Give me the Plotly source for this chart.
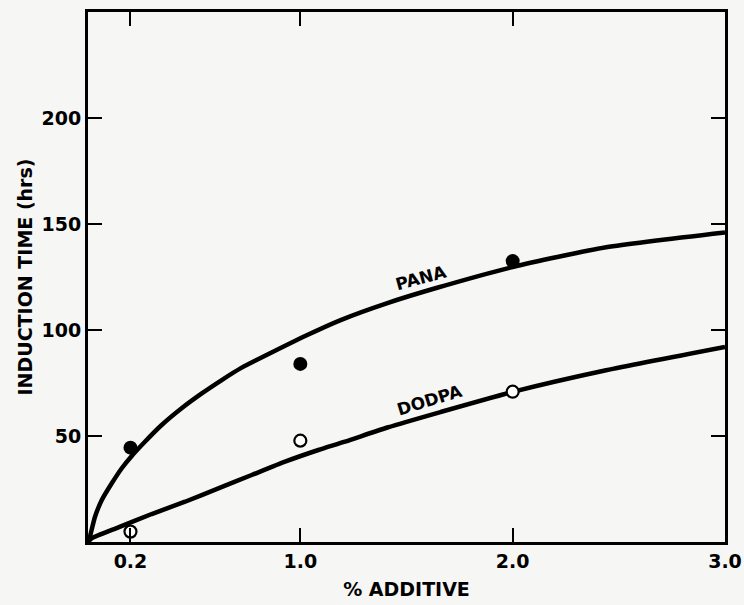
import plotly.graph_objects as go

# Measured points
additive_pct = [0.2, 1.0, 2.0]
pana_points = [44.5, 84.0, 132.5]
dodpa_points = [4.9, 47.8, 70.9]

# Fitted curves as drawn
pana_curve_x = [0.0, 0.009, 0.033, 0.065, 0.112, 0.159, 0.206, 0.268, 0.347, 0.441,
                0.536, 0.63, 0.72, 1.03, 1.19, 1.41, 1.64, 2.0, 2.44, 3.0]
pana_curve_y = [0.0, 2.5, 11.9, 19.8, 27.7, 34.8, 40.6, 47.3, 55.2, 63.1,
                70.1, 76.4, 82.0, 97.5, 104.7, 112.7, 119.8, 129.7, 139.0, 146.0]
dodpa_curve_x = [0.0, 0.017, 0.143, 0.3, 0.457, 0.614, 0.771, 0.928, 1.085, 1.21,
                 1.41, 1.66, 2.0, 2.44, 3.0]
dodpa_curve_y = [0.0, 1.7, 6.9, 13.2, 19.0, 25.3, 31.6, 37.9, 43.4, 47.3,
                 54.0, 61.3, 70.8, 81.0, 92.0]

x_tickvals = [0.2, 1.0, 2.0, 3.0]
x_ticktext = ["<b>0.2</b>", "<b>1.0</b>", "<b>2.0</b>", "<b>3.0</b>"]
y_tickvals = [50, 100, 150, 200]
y_ticktext = ["<b>50</b>", "<b>100</b>", "<b>150</b>", "<b>200</b>"]

FONT = "DejaVu Sans"
BG = "#f6f6f4"

fig = go.Figure()
fig.add_trace(go.Scatter(x=pana_curve_x, y=pana_curve_y, mode="lines",
                         line=dict(color="black", width=4.5, shape="spline", smoothing=0.6),
                         showlegend=False, hoverinfo="skip"))
fig.add_trace(go.Scatter(x=dodpa_curve_x, y=dodpa_curve_y, mode="lines",
                         line=dict(color="black", width=4.5, shape="spline", smoothing=0.6),
                         showlegend=False, hoverinfo="skip"))
fig.add_trace(go.Scatter(x=additive_pct, y=pana_points, mode="markers",
                         marker=dict(size=14, color="black", line=dict(width=0)),
                         showlegend=False, name="PANA"))
fig.add_trace(go.Scatter(x=additive_pct, y=dodpa_points, mode="markers",
                         marker=dict(size=12, color="white", line=dict(width=2.2, color="black")),
                         showlegend=False, name="DODPA"))

fig.add_annotation(x=1.566, y=124.5, text="<b>PANA</b>", showarrow=False, textangle=-15,
                   font=dict(family=FONT, size=17, color="black"))
fig.add_annotation(x=1.61, y=67, text="<b>DODPA</b>", showarrow=False, textangle=-17,
                   font=dict(family=FONT, size=17, color="black"))

axis_common = dict(showgrid=False, zeroline=False, showline=True, linecolor="black",
                   linewidth=3, mirror="ticks", ticks="inside", ticklen=14, tickwidth=2,
                   tickcolor="black", automargin=False,
                   tickfont=dict(family=FONT, size=19, color="black"))

fig.update_xaxes(range=[0, 3.0], tickvals=x_tickvals, ticktext=x_ticktext,
                 title=dict(text="<b>% ADDITIVE</b>", font=dict(family=FONT, size=19, color="black"),
                            standoff=12),
                 **axis_common)
fig.update_yaxes(range=[0, 250], tickvals=y_tickvals, ticktext=y_ticktext,
                 title=dict(text="<b>INDUCTION TIME (hrs)</b>", font=dict(family=FONT, size=19, color="black"),
                            standoff=4),
                 **axis_common)

fig.update_layout(width=744, height=605, margin=dict(l=88, r=19, t=12, b=63),
                  paper_bgcolor=BG, plot_bgcolor=BG)

fig.write_html("out.html", config={"displayModeBar": False},
               post_script="document.body.style.margin='0px';")
